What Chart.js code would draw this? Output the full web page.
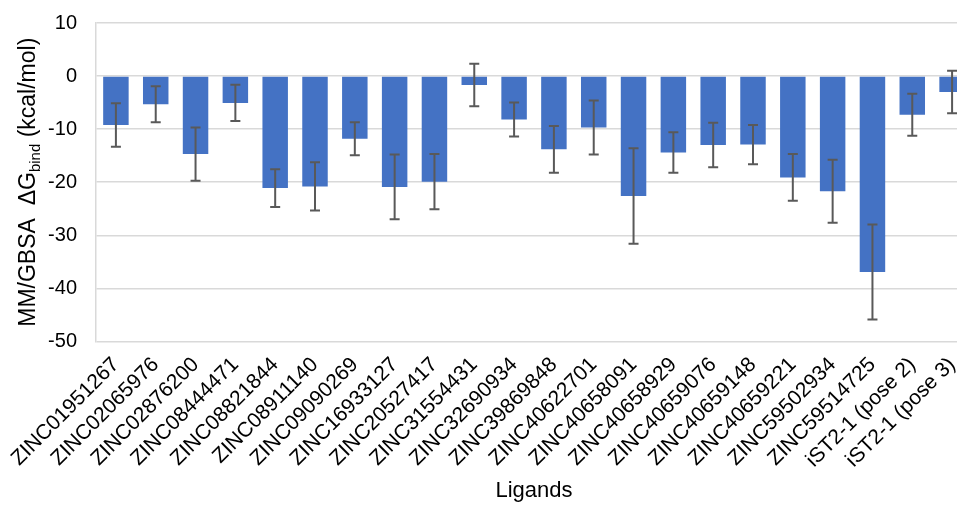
<!DOCTYPE html>
<html>
<head>
<meta charset="utf-8">
<script src="https://cdn.jsdelivr.net/npm/chart.js@4"></script>
<style>
  html, body { margin: 0; padding: 0; background: #fff; overflow: hidden; }
  #wrap { position: relative; width: 980px; height: 504px; }
</style>
</head>
<body>
<div id="wrap"><canvas id="chart"></canvas></div>
<script>
const ligands = [
    'ZINC01951267', 'ZINC02065976', 'ZINC02876200', 'ZINC08444471', 'ZINC08821844',
    'ZINC08911140', 'ZINC09090269', 'ZINC16933127', 'ZINC20527417', 'ZINC31554431',
    'ZINC32690934', 'ZINC39869848', 'ZINC40622701', 'ZINC40658091', 'ZINC40658929',
    'ZINC40659076', 'ZINC40659148', 'ZINC40659221', 'ZINC59502934', 'ZINC59514725',
    'iST2-1 (pose 2)', 'iST2-1 (pose 3)'
];
const dGbind = [
    -9.2, -5.3, -14.7, -5.05, -21.1,
    -20.8, -11.8, -20.9, -19.9, -1.7,
    -8.2, -13.8, -9.7, -22.6, -14.4,
    -13.0, -12.9, -19.1, -21.7, -36.9,
    -7.3, -3.0
];
const stdDev = [
    4.1, 3.4, 5.0, 3.4, 3.55,
    4.55, 3.1, 6.1, 5.2, 4.0,
    3.2, 4.4, 5.1, 9.0, 3.8,
    4.2, 3.7, 4.4, 5.95, 8.95,
    3.95, 4.0
];
const yTicks = [10, 0, -10, -20, -30, -40, -50];

const FONT = "'Liberation Sans', Arial, sans-serif";

// error bars drawn from stdDev through the scales
const errorBars = {
    id: 'errorBars',
    afterDatasetsDraw(chart) {
        const ctx = chart.ctx;
        const x = chart.scales.x, y = chart.scales.y;
        ctx.save();
        ctx.strokeStyle = '#595959';
        ctx.lineWidth = 2;
        dGbind.forEach((v, i) => {
            const px = x.getPixelForValue(i);
            const top = y.getPixelForValue(v + stdDev[i]);
            const bot = y.getPixelForValue(v - stdDev[i]);
            ctx.beginPath();
            ctx.moveTo(px, top); ctx.lineTo(px, bot);
            ctx.moveTo(px - 5, top); ctx.lineTo(px + 5, top);
            ctx.moveTo(px - 5, bot); ctx.lineTo(px + 5, bot);
            ctx.stroke();
        });
        ctx.restore();
    }
};

// y title with subscript "bind"
const yTitle = {
    id: 'yTitle',
    afterDraw(chart) {
        const ctx = chart.ctx;
        const area = chart.chartArea;
        const parts = [
            { t: 'MM/GBSA  \u0394G', size: 23, dy: 0 },
            { t: 'bind', size: 15, dy: 5 },
            { t: ' (kcal/mol)', size: 23, dy: 0 }
        ];
        ctx.save();
        let total = 0;
        parts.forEach(p => { ctx.font = p.size + 'px ' + FONT; p.w = ctx.measureText(p.t).width; total += p.w; });
        ctx.translate(35, (area.top + area.bottom) / 2);
        ctx.rotate(-Math.PI / 2);
        ctx.fillStyle = '#000';
        ctx.textBaseline = 'alphabetic';
        let cx = -total / 2;
        parts.forEach(p => {
            ctx.font = p.size + 'px ' + FONT;
            ctx.fillText(p.t, cx, p.dy);
            cx += p.w;
        });
        ctx.restore();
    }
};

new Chart(document.getElementById('chart'), {
    type: 'bar',
    data: {
        labels: ligands,
        datasets: [{
            label: 'MM/GBSA',
            data: dGbind,
            backgroundColor: '#4472C4',
            borderWidth: 0,
            barPercentage: 0.64,
            categoryPercentage: 1.0
        }]
    },
    options: {
        responsive: true,
        maintainAspectRatio: false,
        animation: false,
        layout: { padding: { top: 23, right: 8, left: 0, bottom: 0 } },
        plugins: {
            legend: { display: false },
            tooltip: { enabled: false }
        },
        scales: {
            x: {
                grid: { display: false },
                border: { display: false },
                ticks: {
                    color: '#000',
                    font: { family: FONT, size: 21 },
                    minRotation: 45,
                    maxRotation: 45,
                    autoSkip: false,
                    padding: 3
                },
                title: {
                    display: true,
                    text: 'Ligands',
                    color: '#000',
                    font: { family: FONT, size: 22 },
                    padding: { top: 2, bottom: 0 }
                }
            },
            y: {
                min: -50,
                max: 10,
                afterFit(scale) { scale.width = 96; },
                afterBuildTicks(scale) { scale.ticks = yTicks.map(v => ({ value: v })); },
                // invisible tick marks push the labels away from the plot
                grid: { color: '#D9D9D9', lineWidth: 1.5, drawTicks: true, tickLength: 16, tickColor: 'rgba(0,0,0,0)' },
                border: { display: true, color: '#D9D9D9', width: 1.5 },
                ticks: {
                    color: '#000',
                    font: { family: FONT, size: 20 },
                    padding: 3
                }
            }
        }
    },
    plugins: [errorBars, yTitle]
});
</script>
</body>
</html>
